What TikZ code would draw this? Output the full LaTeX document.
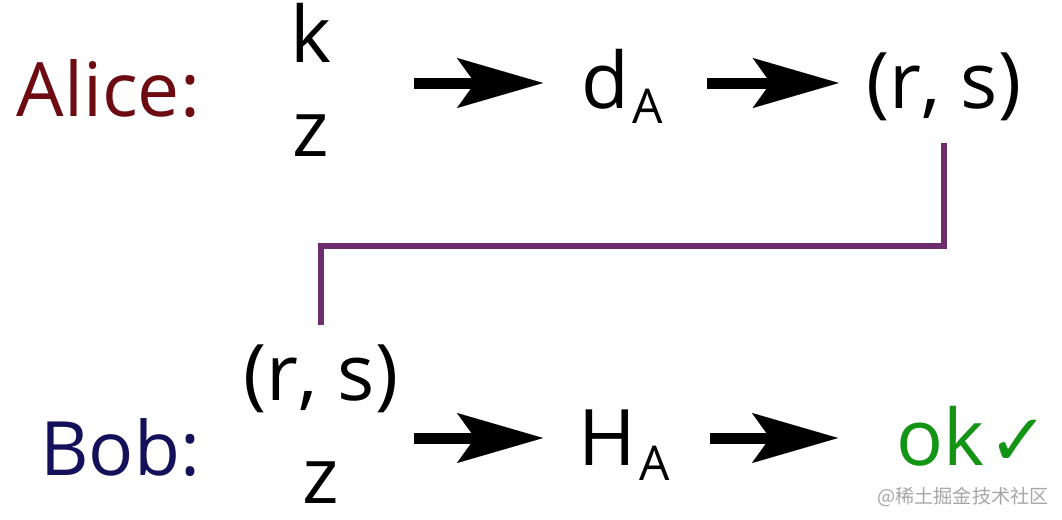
\documentclass[tikz,border=0pt]{standalone}
\usepackage{fontspec}
\setmainfont{Open Sans}
\newfontfamily\symfont{DejaVu Sans}
\newfontfamily\cjkfont{Noto Sans CJK SC}
\usepackage{xcolor}
\usepackage{tikz}
\usetikzlibrary{calc,arrows.meta}
\definecolor{alicec}{HTML}{6E0B12}
\definecolor{bobc}{HTML}{14105A}
\definecolor{linkc}{HTML}{6C2C6E}
\definecolor{okc}{HTML}{149414}
\definecolor{wmc}{HTML}{A6A6A6}
\newcommand\sub[1]{\kern2pt\raisebox{-7.5pt}{\fontsize{24}{24}\selectfont #1}}
\tikzset{
  txt/.style={inner sep=0pt, outer sep=0pt},
  who/.style={txt, font=\fontsize{37.5}{45}\selectfont},
  val/.style={txt, text=black, font=\fontsize{39}{47}\selectfont},
  arr/.style={draw=black, line width=5.5pt,
    -{Stealth[length=43pt, width=25pt, inset=9pt, line width=0.01pt]}},
  link/.style={draw=linkc, line width=3pt},
  wm/.style={txt, text=wmc, font=\cjkfont\fontsize{9.6}{12}\selectfont},
}
\begin{document}
\begin{tikzpicture}[x=0.5pt, y=-0.5pt]
  \useasboundingbox (0,0) rectangle (1062,520);
  \coordinate (rowA) at (0,83);
  \coordinate (rowB) at (0,438);
  \coordinate (bend) at (0,246);
  % Alice
  \node[who, text=alicec, anchor=base east] (alice) at (200,116) {Alice:};
  \node[val, align=center, anchor=north] (kz) at (311,3) {k\\z};
  \node[val, anchor=base west] (dA) at (581,108) {d\sub{A}};
  \node[val, anchor=base] (rsA) at (944,108) {(r, s)};
  \draw[arr, shorten <=41.5pt, shorten >=19pt] (kz.east |- rowA) -- (dA.west |- rowA);
  \draw[arr, shorten <=22pt, shorten >=14pt] (dA.east |- rowA) -- (rsA.west |- rowA);
  % Bob
  \node[who, text=bobc, anchor=base east] (bob) at (200,475) {Bob:};
  \node[val, align=center, anchor=north, font=\fontsize{39}{51.5}\selectfont] (rsB) at (321,345) {(r, s)\\z};
  \node[val, anchor=base west] (HA) at (578,465) {H\sub{A}};
  \node[val, text=okc, anchor=base west] (ok) at (896,465) {ok\kern2pt{\symfont\fontsize{36}{36}\selectfont ✓}};
  \draw[arr, shorten <=8pt, shorten >=17.5pt] (rsB.east |- rowB) -- (HA.west |- rowB);
  \draw[arr, shorten <=20pt, shorten >=29pt] (HA.east |- rowB) -- (ok.west |- rowB);
  % signature passed on
  \draw[link, shorten <=11.5pt, shorten >=10pt] (rsA.south) -- (rsA.south |- bend) -| (rsB.north);
  \node[wm] (mark) at (963,497) {@稀土掘金技术社区};
\end{tikzpicture}
\end{document}
